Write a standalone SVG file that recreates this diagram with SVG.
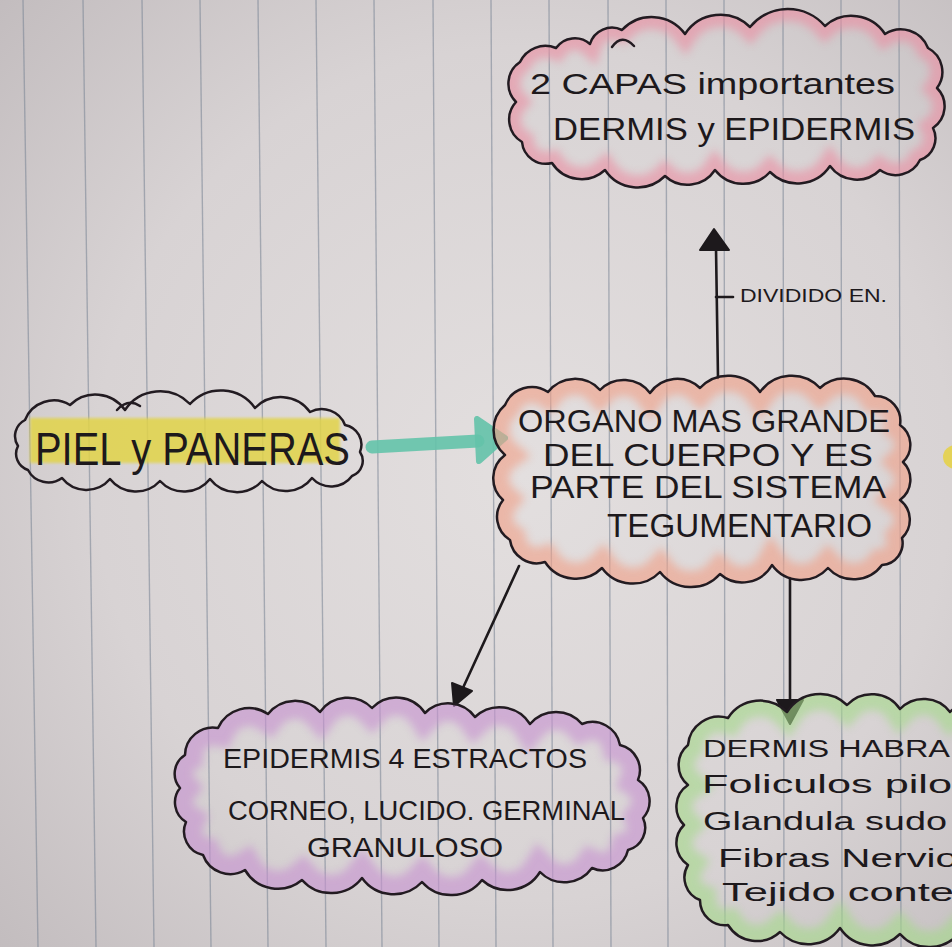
<svg xmlns="http://www.w3.org/2000/svg" xmlns:xlink="http://www.w3.org/1999/xlink" width="952" height="947" viewBox="0 0 952 947">
<style>
.rule{stroke:#7f8998;stroke-width:1.4;opacity:.6}
.outline{fill:none;stroke:#221b21;stroke-width:2.5;stroke-linejoin:round;stroke-linecap:round}
.halo{fill:none;stroke-width:24;filter:url(#soft);opacity:.62}
.hw{font-family:"Liberation Sans","DejaVu Sans",sans-serif;fill:#1d191c}
.ink{stroke:#1d191c;stroke-width:2.6;fill:none;stroke-linecap:round}
.head{fill:#1d191c;stroke:#1d191c;stroke-width:2;stroke-linejoin:round}
</style>
<defs>
<radialGradient id="paper" cx="0.55" cy="0.5" r="0.75">
<stop offset="0" stop-color="#e3dfdf"/>
<stop offset="0.6" stop-color="#d8d3d4"/>
<stop offset="1" stop-color="#c2bcbe"/>
</radialGradient>
<filter id="soft" x="-10%" y="-10%" width="120%" height="120%"><feGaussianBlur stdDeviation="4"/></filter>
<filter id="soft2" x="-10%" y="-30%" width="120%" height="160%"><feGaussianBlur stdDeviation="1.5"/></filter>
<path id="c1" d="M520,62 A28,28 0 0 1 556,48 A23,23 0 0 1 590,44 A23,23 0 0 1 622,30 A41,41 0 0 1 685,34 A42,42 0 0 1 750,27 A49,49 0 0 1 825,26 A40,40 0 0 1 885,34 A29,29 0 0 1 928,48 A27,27 0 0 1 937,88 A26,26 0 0 1 933,128 A23,23 0 0 1 920,160 A27,27 0 0 1 880,170 A33,33 0 0 1 830,166 A39,39 0 0 1 770,172 A36,36 0 0 1 715,170 A33,33 0 0 1 665,176 A39,39 0 0 1 605,170 A35,35 0 0 1 552,163 A24,24 0 0 1 522,142 A26,26 0 0 1 516,102 A26,26 0 0 1 520,62 Z"/>
<path id="c2" d="M25,420 A31,31 0 0 1 70,405 A36,36 0 0 1 125,410 A42,42 0 0 1 190,404 A42,42 0 0 1 255,408 A36,36 0 0 1 310,412 A25,25 0 0 1 345,425 A20,20 0 0 1 360,452 A16,16 0 0 1 352,476 A26,26 0 0 1 312,478 A33,33 0 0 1 262,481 A34,34 0 0 1 210,479 A33,33 0 0 1 160,481 A33,33 0 0 1 110,479 A31,31 0 0 1 62,478 A23,23 0 0 1 28,470 A17,17 0 0 1 18,446 A18,18 0 0 1 25,420 Z"/>
<path id="c3" d="M505,405 A29,29 0 0 1 548,392 A34,34 0 0 1 600,390 A33,33 0 0 1 650,393 A33,33 0 0 1 700,388 A39,39 0 0 1 760,392 A39,39 0 0 1 820,388 A36,36 0 0 1 875,396 A25,25 0 0 1 900,425 A24,24 0 0 1 903,462 A25,25 0 0 1 900,500 A25,25 0 0 1 902,538 A22,22 0 0 1 882,565 A35,35 0 0 1 828,568 A36,36 0 0 1 772,565 A34,34 0 0 1 720,574 A39,39 0 0 1 660,572 A38,38 0 0 1 602,568 A37,37 0 0 1 545,562 A27,27 0 0 1 510,540 A27,27 0 0 1 503,500 A29,29 0 0 1 505,455 A33,33 0 0 1 505,405 Z"/>
<path id="c4" d="M185,755 A28,28 0 0 1 218,728 A34,34 0 0 1 268,714 A34,34 0 0 1 320,712 A34,34 0 0 1 372,708 A34,34 0 0 1 425,713 A33,33 0 0 1 475,717 A36,36 0 0 1 530,724 A34,34 0 0 1 582,724 A28,28 0 0 1 620,745 A26,26 0 0 1 638,780 A25,25 0 0 1 643,818 A23,23 0 0 1 628,850 A26,26 0 0 1 592,868 A34,34 0 0 1 540,872 A38,38 0 0 1 482,880 A39,39 0 0 1 422,882 A39,39 0 0 1 362,878 A39,39 0 0 1 302,880 A38,38 0 0 1 245,870 A29,29 0 0 1 203,855 A24,24 0 0 1 186,822 A23,23 0 0 1 180,788 A22,22 0 0 1 185,755 Z"/>
<path id="c5" d="M688,745 A31,31 0 0 1 728,718 A38,38 0 0 1 787,712 A39,39 0 0 1 847,705 A34,34 0 0 1 900,709 A33,33 0 0 1 950,712 A33,33 0 0 1 1000,715 L1000,940 L960,932 A39,39 0 0 1 900,934 A39,39 0 0 1 840,928 A39,39 0 0 1 780,932 A34,34 0 0 1 728,925 A25,25 0 0 1 700,900 A24,24 0 0 1 688,865 A26,26 0 0 1 684,825 A26,26 0 0 1 688,785 A26,26 0 0 1 688,745 Z"/>
<clipPath id="k1"><use xlink:href="#c1"/></clipPath>
<clipPath id="k3"><use xlink:href="#c3"/></clipPath>
<clipPath id="k4"><use xlink:href="#c4"/></clipPath>
<clipPath id="k5"><use xlink:href="#c5"/></clipPath>
</defs>

<rect width="952" height="947" fill="url(#paper)"/>
<g id="rules">
<line class="rule" x1="23" y1="0" x2="38" y2="947"/>
<line class="rule" x1="83" y1="0" x2="96" y2="947"/>
<line class="rule" x1="142" y1="0" x2="154" y2="947"/>
<line class="rule" x1="200" y1="0" x2="211" y2="947"/>
<line class="rule" x1="258" y1="0" x2="268" y2="947"/>
<line class="rule" x1="316" y1="0" x2="326" y2="947"/>
<line class="rule" x1="374" y1="0" x2="382" y2="947"/>
<line class="rule" x1="433" y1="0" x2="439" y2="947"/>
<line class="rule" x1="491" y1="0" x2="496" y2="947"/>
<line class="rule" x1="549" y1="0" x2="553" y2="947"/>
<line class="rule" x1="608" y1="0" x2="611" y2="947"/>
<line class="rule" x1="666" y1="0" x2="668" y2="947"/>
<line class="rule" x1="724" y1="0" x2="725" y2="947"/>
<line class="rule" x1="783" y1="0" x2="784" y2="947"/>
<line class="rule" x1="841" y1="0" x2="842" y2="947"/>
<line class="rule" x1="899" y1="0" x2="901" y2="947"/>
</g>

<g id="connectors">
<path d="M372,447 L478,441" stroke="#64c3aa" stroke-width="13" fill="none" stroke-linecap="round" opacity=".9"/>
<polygon points="505,438 477,419 479,461" fill="#64c3aa" stroke="#64c3aa" stroke-width="6" stroke-linejoin="round" opacity=".9"/>
<line class="ink" x1="718" y1="378" x2="716" y2="248"/>
<polygon class="head" points="714,229 700,250 729,250"/>
<line class="ink" x1="716" y1="297" x2="733" y2="297"/>
<text class="hw" x="740" y="302" font-size="18" textLength="147" lengthAdjust="spacingAndGlyphs">DIVIDIDO EN.</text>
<line class="ink" x1="519" y1="566" x2="462" y2="690"/>
<polygon class="head" points="454,706 472,691 452,683"/>
<line class="ink" x1="790" y1="578" x2="790" y2="702"/>
<polygon class="head" points="790,724 777,700 803,700"/>
<ellipse cx="956" cy="457" rx="13" ry="12" fill="#e6d24a" opacity=".9"/>
</g>

<g id="node-capas">
<use xlink:href="#c1" class="halo" stroke="#ea8fa3" clip-path="url(#k1)"/>
<use xlink:href="#c1" class="outline"/>
<path class="outline" d="M612,47 Q622,33 634,46"/>
<text class="hw" x="530" y="94" font-size="30" textLength="365" lengthAdjust="spacingAndGlyphs">2 CAPAS importantes</text>
<text class="hw" x="553" y="140" font-size="32" textLength="362" lengthAdjust="spacingAndGlyphs">DERMIS y EPIDERMIS</text>
</g>

<g id="node-piel">
<rect x="30" y="418" width="310" height="45" fill="#e2d44a" opacity=".85" filter="url(#soft2)"/>
<use xlink:href="#c2" class="outline"/>
<path class="outline" d="M117,410 Q128,398 140,406"/>
<text class="hw" x="35" y="465" font-size="46" textLength="315" lengthAdjust="spacingAndGlyphs">PIEL y PANERAS</text>
</g>

<g id="node-organo">
<use xlink:href="#c3" class="halo" stroke="#f0a088" clip-path="url(#k3)" style="stroke-width:32"/>
<use xlink:href="#c3" class="outline"/>
<text class="hw" x="518" y="432" font-size="32" textLength="372" lengthAdjust="spacingAndGlyphs">ORGANO MAS GRANDE</text>
<text class="hw" x="543" y="466" font-size="32" textLength="330" lengthAdjust="spacingAndGlyphs">DEL CUERPO Y ES</text>
<text class="hw" x="530" y="498" font-size="31" textLength="356" lengthAdjust="spacingAndGlyphs">PARTE DEL SISTEMA</text>
<text class="hw" x="607" y="537" font-size="33" textLength="265" lengthAdjust="spacingAndGlyphs">TEGUMENTARIO</text>
</g>

<g id="node-epidermis">
<use xlink:href="#c4" class="halo" stroke="#c793d0" clip-path="url(#k4)" style="stroke-width:36"/>
<use xlink:href="#c4" class="outline"/>
<text class="hw" x="223" y="768" font-size="27" textLength="364" lengthAdjust="spacingAndGlyphs">EPIDERMIS 4 ESTRACTOS</text>
<text class="hw" x="228" y="820" font-size="27" textLength="397" lengthAdjust="spacingAndGlyphs">CORNEO, LUCIDO. GERMINAL</text>
<text class="hw" x="307" y="857" font-size="28" textLength="196" lengthAdjust="spacingAndGlyphs">GRANULOSO</text>
</g>

<g id="node-dermis">
<use xlink:href="#c5" class="halo" stroke="#a6d98c" clip-path="url(#k5)" style="stroke-width:32"/>
<use xlink:href="#c5" class="outline"/>
<text class="hw" x="703" y="757" font-size="23" textLength="247" lengthAdjust="spacingAndGlyphs">DERMIS HABRA</text>
<text class="hw" x="702" y="793" font-size="26" textLength="250" lengthAdjust="spacingAndGlyphs">Foliculos pilo</text>
<text class="hw" x="703" y="830" font-size="26" textLength="244" lengthAdjust="spacingAndGlyphs">Glandula sudo</text>
<text class="hw" x="718" y="867" font-size="26" textLength="240" lengthAdjust="spacingAndGlyphs">Fibras Nervio</text>
<text class="hw" x="722" y="901" font-size="26" textLength="232" lengthAdjust="spacingAndGlyphs">Tejido conte</text>
</g>
</svg>
